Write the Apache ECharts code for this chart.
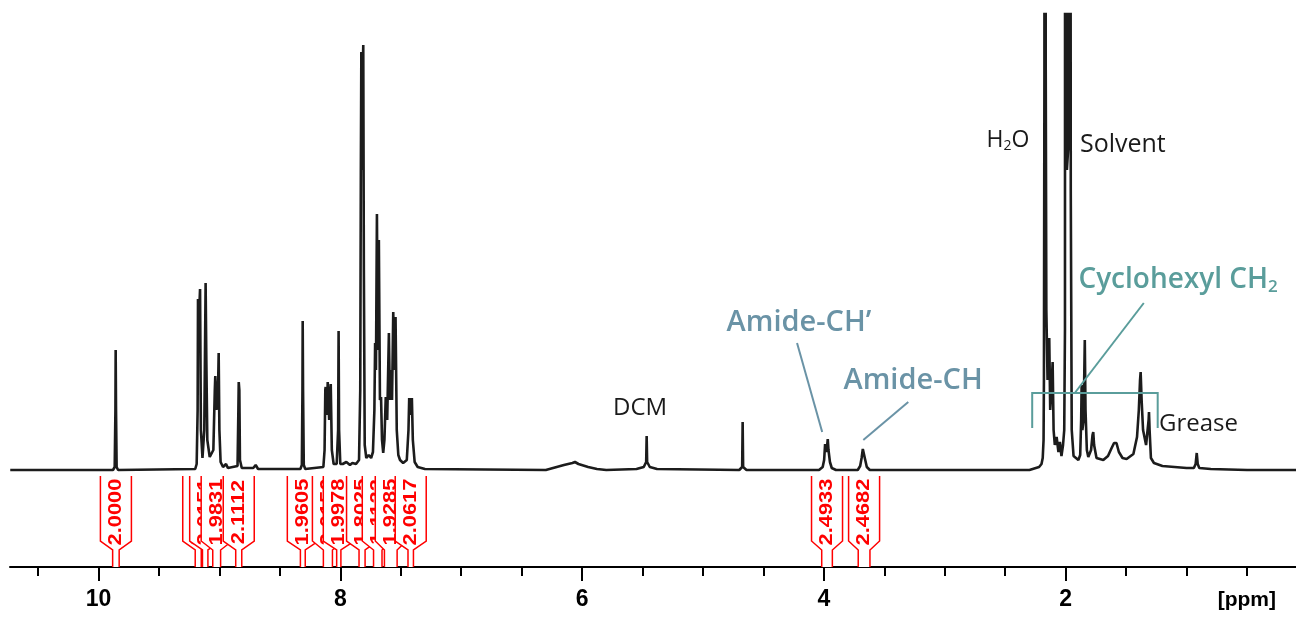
<!DOCTYPE html>
<html><head><meta charset="utf-8">
<script src="https://cdn.jsdelivr.net/npm/echarts@6/dist/echarts.min.js"></script>
<style>html,body{margin:0;padding:0;background:#fff}#c{width:1296px;height:617px}</style>
</head><body><div id="c"></div>
<script>
// ---- axis ----
const ppmMin = 0.095, ppmMax = 10.732;
const majorTicks = [10, 8, 6, 4, 2];
const minorTicks = [10.5, 9.5, 9, 8.5, 7.5, 7, 6.5, 5.5, 5, 4.5, 3.5, 3, 2.5, 1.5, 1, 0.5];
const intensityMin = -97, intensityMax = 456;

// ---- spectrum points [ppm, intensity] ----
const aromaticA = [
  [10.73,0],[9.880,0],[9.866,3],[9.860,60],[9.858,120],[9.855,60],[9.850,3],[9.838,0],
  [9.20,1],[9.188,6],[9.180,60],[9.177,171],[9.170,150],[9.160,181],[9.153,40],[9.140,12],[9.125,40],
  [9.114,187],[9.108,110],[9.100,30],[9.080,13],[9.050,20],[9.038,80],[9.034,94],[9.024,60],[9.010,90],
  [9.006,117],[9.000,40],[8.990,8],[8.970,3],[8.945,6],[8.930,2],[8.850,4],[8.843,60],[8.840,88],
  [8.835,80],[8.830,10],[8.815,2],[8.72,2],[8.70,5],[8.68,1]
];
const aromaticB = [
  [8.33,1],[8.318,5],[8.313,80],[8.311,149],[8.308,80],[8.302,5],[8.29,1],
  [8.14,3],[8.130,20],[8.124,80],[8.121,83],[8.112,55],[8.104,88],[8.092,50],[8.082,80],[8.079,86],
  [8.070,20],[8.055,6],[8.030,6],[8.018,40],[8.014,139],[8.010,40],[8.000,6],[7.98,6],[7.95,8],
  [7.92,5],[7.90,7],[7.87,6],[7.845,10],[7.835,80],[7.830,300],[7.826,418],[7.820,300],[7.814,400],
  [7.810,425],[7.805,200],[7.798,25],[7.785,12],[7.765,15],[7.745,12],[7.73,18],[7.718,60],[7.712,127],
  [7.705,100],[7.697,256],[7.690,120],[7.681,230],[7.672,70],[7.663,73],[7.655,30],[7.645,17],[7.635,30],
  [7.624,73],[7.612,50],[7.598,137],[7.590,70],[7.581,100],[7.572,70],[7.562,158],[7.553,100],[7.543,153],
  [7.533,40],[7.520,15],[7.506,10],[7.48,7],[7.45,10],[7.436,40],[7.430,72],[7.420,55],[7.408,72],
  [7.400,30],[7.385,8],[7.36,3],[7.30,1]
];
const midRegion = [
  [6.30,0],[6.24,2],[6.15,5],[6.08,7],[6.059,8],[6.03,6],[5.95,3],[5.877,1],[5.80,0],
  [5.55,1],[5.49,3],[5.470,8],[5.466,34],[5.462,8],[5.44,3],[5.38,1],
  [4.70,0],[4.676,3],[4.672,48],[4.668,3],[4.64,0],
  [4.04,0],[4.01,3],[3.998,10],[3.990,26],[3.986,28],[3.978,18],[3.968,31],[3.962,20],[3.950,8],[3.935,2],[3.90,0],
  [3.72,0],[3.70,4],[3.688,12],[3.678,21],[3.674,23],[3.668,19],[3.658,10],[3.645,3],[3.62,0]
];
const aliphatic = [
  [2.30,0],[2.22,3],[2.20,6],[2.19,12],[2.183,30],[2.180,90],[2.176,400],[2.174,2000],[2.168,2000],[2.165,400],
  [2.16,160],[2.150,90],[2.140,110],[2.136,132],[2.128,60],[2.118,80],[2.108,108],[2.100,40],[2.090,25],
  [2.075,33],[2.060,18],[2.048,28],[2.035,14],[2.022,25],[2.012,40],[2.006,140],[2.003,2000],[2.000,2000],[1.990,300],
  [1.975,330],[1.968,2000],[1.965,2000],[1.958,280],[1.950,40],[1.935,14],[1.915,12],[1.895,10],[1.880,15],[1.872,50],
  [1.868,85],[1.862,40],[1.852,50],[1.842,130],[1.836,60],[1.825,20],[1.813,13],[1.790,20],[1.778,35],
  [1.772,38],[1.765,25],[1.745,12],[1.689,10],[1.650,14],[1.620,22],[1.600,27],[1.580,27],[1.560,18],
  [1.530,12],[1.496,11],[1.440,16],[1.410,33],[1.395,60],[1.385,90],[1.380,98],[1.372,70],[1.360,40],
  [1.335,25],[1.320,25],[1.314,50],[1.311,58],[1.306,40],[1.295,12],[1.270,7],[1.20,4],[1.10,3],[1.00,2],
  [0.94,2],[0.925,6],[0.916,17],[0.908,6],[0.895,2],[0.80,1],[0.50,0],[0.095,0]
];

// ---- integrals: [from ppm, to ppm] and their labels ----
const integralRanges = [
  [9.883,9.829],[9.200,9.150],[9.140,9.095],[9.055,8.990],[8.865,8.815],
  [8.330,8.290],[8.140,8.065],[8.030,7.995],[7.845,7.795],[7.725,7.655],[7.635,7.530],[7.440,7.395],
  [4.018,3.930],[3.716,3.619]
];
const integralLabels = [
  '2.0000','2.0322','2.0151','1.9831','2.1112',
  '1.9605','2.0156','1.9978','1.8025','1.1122','1.9285','2.0617',
  '2.4933','2.4682'
];

// ---- annotations ----
const annotationTexts = ['H{s|2}O','Solvent','DCM','Grease','Amide-CH\u2019','Amide-CH','Cyclohexyl CH{s|2}'];
const annotationAnchors = [[2.477,330],[1.882,325],[5.52,62],[1.228,46],[4.805,147],[3.262,89],[1.895,190]];

const spectrum = aromaticA.concat(aromaticB, midRegion, aliphatic);

const chart = echarts.init(document.getElementById('c'), null, {renderer:'canvas'});

function renderIntegral(params, api){
  const i = params.dataIndex;
  const p1 = api.coord([api.value(0), 0]);
  const p2 = api.coord([api.value(1), 0]);
  const axisY = api.coord([ppmMin, intensityMin])[1];
  const s1 = Math.min(p1[0], p2[0]), s2 = Math.max(p1[0], p2[0]);
  const cx = (s1 + s2) / 2;
  const half = 15.5;
  const l = cx - half, r = cx + half;
  const yTop = axisY - 91, yBox = axisY - 26, yFun = axisY - 17;
  const pts = [[l,yTop],[l,yBox],[s1,yFun],[s1,axisY],[s2,axisY],[s2,yFun],[r,yBox],[r,yTop]];
  return {
    type:'group',
    children:[
      {type:'polygon', shape:{points:pts}, style:{fill:'#fff', stroke:null}},
      {type:'polyline', shape:{points:[[l,yTop],[l,yBox],[s1,yFun],[s1,axisY]]}, style:{stroke:'#ff0000', lineWidth:1.5, fill:null}},
      {type:'polyline', shape:{points:[[r,yTop],[r,yBox],[s2,yFun],[s2,axisY]]}, style:{stroke:'#ff0000', lineWidth:1.5, fill:null}},
      {type:'text', x:cx, y:axisY - 55, rotation:Math.PI/2, scaleX:1.15,
       style:{text:integralLabels[i], fill:'#ff0000', font:'bold 19px "Liberation Sans", Arial, sans-serif', align:'center', verticalAlign:'middle'}}
    ]
  };
}

const tickFont = '"Liberation Sans Narrow", "Liberation Sans", Arial, sans-serif';
chart.setOption({
  animation:false,
  backgroundColor:'#fff',
  grid:{left:10, right:0, top:14, bottom:50},
  xAxis:[{
    type:'value', inverse:true, min:ppmMin, max:ppmMax, position:'bottom',
    axisLine:{show:true, onZero:false, lineStyle:{color:'#000', width:2}},
    axisTick:{show:true, customValues:majorTicks, length:14, lineStyle:{color:'#000', width:2}},
    axisLabel:{show:true, customValues:majorTicks, margin:21, color:'#000', fontSize:23, fontWeight:'bold', fontFamily:tickFont},
    splitLine:{show:false}
  },{
    type:'value', inverse:true, min:ppmMin, max:ppmMax, position:'bottom', offset:0,
    axisLine:{show:false, onZero:false},
    axisTick:{show:true, customValues:minorTicks, length:9, lineStyle:{color:'#000', width:2}},
    axisLabel:{show:false}, splitLine:{show:false}
  }],
  yAxis:{type:'value', min:intensityMin, max:intensityMax, show:false, splitLine:{show:false}},
  series:[{
    type:'line', data:spectrum, xAxisIndex:0, showSymbol:false, symbol:'none', clip:true,
    lineStyle:{color:'#1c1c1c', width:2.6}, z:3
  },{
    type:'custom', xAxisIndex:0, data:integralRanges, renderItem:renderIntegral, clip:false, z:2,
    encode:{x:[0,1]}
  }]
});

// annotations placed at data coordinates
const toPx = (p) => chart.convertToPixel({xAxisIndex:0, yAxisIndex:0}, p);
const annFont = '"Open Sans", "Noto Sans", sans-serif';
const styles = [
  {color:'#1a1a1a', size:23, weight:'normal', align:'center'},
  {color:'#1a1a1a', size:25, weight:'normal', align:'left'},
  {color:'#1a1a1a', size:24, weight:'normal', align:'center'},
  {color:'#1a1a1a', size:24, weight:'normal', align:'left'},
  {color:'#6a93a6', size:29, weight:600, align:'left'},
  {color:'#6a93a6', size:29, weight:600, align:'center'},
  {color:'#5a9d9b', size:28, weight:600, align:'left'}
];
const graphics = annotationTexts.map((t, i) => {
  const p = toPx(annotationAnchors[i]);
  const st = styles[i];
  return {
    type:'text', x:p[0], y:p[1], z:10,
    style:{text:t, fill:st.color, fontFamily:annFont, fontSize:st.size, fontWeight:st.weight,
      align:st.align, verticalAlign:'middle',
      rich:{s:{fontSize:Math.round(st.size*0.62), fontWeight:st.weight, fontFamily:annFont, fill:st.color, padding:[Math.round(st.size*0.55),0,0,0]}}}
  };
});
// leader lines and bracket (data coordinates)
const amideLeaders = [[[4.222,127],[4.014,38]], [[3.302,68],[3.674,30]]];
const cyclohexylLeader = [[1.354,167],[1.925,77]];
const cyclohexylBracket = [[2.277,42],[2.277,77],[1.239,77],[1.239,42]];
amideLeaders.forEach(seg => {
  const a = toPx(seg[0]), b = toPx(seg[1]);
  graphics.push({type:'line', shape:{x1:a[0],y1:a[1],x2:b[0],y2:b[1]}, style:{stroke:'#6a93a6', lineWidth:2}, z:10});
});
{
  const a = toPx(cyclohexylLeader[0]), b = toPx(cyclohexylLeader[1]);
  graphics.push({type:'line', shape:{x1:a[0],y1:a[1],x2:b[0],y2:b[1]}, style:{stroke:'#5a9d9b', lineWidth:2}, z:10});
  graphics.push({type:'polyline', shape:{points:cyclohexylBracket.map(toPx)}, style:{stroke:'#5a9d9b', lineWidth:2, fill:null}, z:10});
}
graphics.push({type:'text', right:20, top:590, z:10,
  style:{text:'[ppm]', fill:'#000', fontSize:21, fontWeight:'bold', fontFamily:tickFont}});
chart.setOption({graphic:graphics});
</script></body></html>
